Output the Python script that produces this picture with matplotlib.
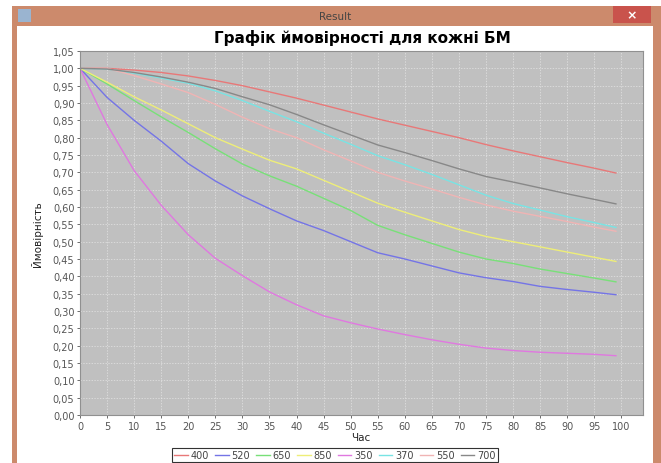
import matplotlib
matplotlib.use("Agg")
import matplotlib.pyplot as plt
import numpy as np
from matplotlib.patches import Rectangle
from matplotlib.lines import Line2D

# дані з графіка
hours = [0, 5, 10, 15, 20, 25, 30, 35, 40, 45, 50, 55, 60, 65, 70, 75, 80, 85, 90, 95, 99]
p400 = [1.0, 1.0, 0.995, 0.988, 0.978, 0.965, 0.950, 0.932, 0.914, 0.894, 0.874, 0.854, 0.836, 0.818, 0.800, 0.780, 0.762, 0.745, 0.728, 0.712, 0.698]
p520 = [1.0, 0.916, 0.850, 0.790, 0.725, 0.675, 0.632, 0.595, 0.560, 0.532, 0.500, 0.468, 0.450, 0.430, 0.410, 0.396, 0.385, 0.371, 0.362, 0.354, 0.347]
p650 = [1.0, 0.955, 0.907, 0.860, 0.815, 0.768, 0.724, 0.690, 0.660, 0.625, 0.590, 0.547, 0.520, 0.495, 0.470, 0.450, 0.437, 0.421, 0.408, 0.395, 0.384]
p850 = [1.0, 0.960, 0.918, 0.880, 0.840, 0.800, 0.767, 0.735, 0.710, 0.677, 0.644, 0.611, 0.585, 0.560, 0.535, 0.515, 0.500, 0.485, 0.470, 0.455, 0.443]
p350 = [1.0, 0.838, 0.705, 0.605, 0.520, 0.452, 0.402, 0.355, 0.318, 0.286, 0.266, 0.248, 0.232, 0.217, 0.204, 0.193, 0.186, 0.181, 0.178, 0.175, 0.171]
p370 = [1.0, 0.998, 0.986, 0.972, 0.957, 0.935, 0.907, 0.876, 0.846, 0.813, 0.781, 0.748, 0.722, 0.694, 0.664, 0.634, 0.610, 0.591, 0.572, 0.555, 0.541]
p550 = [1.0, 1.0, 0.979, 0.955, 0.930, 0.896, 0.859, 0.826, 0.800, 0.765, 0.733, 0.700, 0.675, 0.652, 0.628, 0.606, 0.588, 0.573, 0.558, 0.542, 0.530]
p700 = [1.0, 0.998, 0.988, 0.975, 0.960, 0.942, 0.918, 0.895, 0.867, 0.837, 0.808, 0.779, 0.757, 0.734, 0.710, 0.688, 0.672, 0.655, 0.638, 0.622, 0.609]

labels = ['400', '520', '650', '850', '350', '370', '550', '700']
series = [p400, p520, p650, p850, p350, p370, p550, p700]
colors = ['#e87878', '#7474e6', '#78e078', '#eeee78', '#e078e0', '#78e4e4', '#f0b4b4', '#888888']

W, H = 661, 464
fig = plt.figure(figsize=(W / 100, H / 100), dpi=100)
fig.patch.set_facecolor('white')

def px(x, y):
    return x / W, 1 - y / H

def rect(x0, y0, x1, y1, color):
    fig.patches.append(Rectangle((x0 / W, 1 - y1 / H), (x1 - x0) / W, (y1 - y0) / H,
                                 transform=fig.transFigure, facecolor=color, edgecolor='none', zorder=-5))

# рамка вікна
rect(12, 7, 661, 464, '#cc8a6c')
rect(17, 27, 653, 464, 'white')
rect(613, 7, 651, 24, '#c9534c')
rect(18, 10, 31, 23, '#9ab4d0')
fig.text(*px(632, 15.5), '×', color='white', fontsize=9, ha='center', va='center', weight='bold')
fig.text(*px(335, 17), 'Result', color='#444444', fontsize=7.5, ha='center', va='center')

ax = fig.add_axes([80 / W, 1 - 416 / H, 563 / W, 364 / H])
ax.set_zorder(5)
ax.set_facecolor('#c0c0c0')
for s, lab, c in zip(series, labels, colors):
    ax.plot(hours, s, color=c, lw=1.0, label=lab)

ax.set_xlim(0, 104)
ax.set_ylim(0, 1.05)
ax.set_xticks(np.arange(0, 101, 5))
yt = np.arange(0, 1.051, 0.05)
ax.set_yticks(yt)
ax.set_yticklabels([f'{v:.2f}'.replace('.', ',') for v in yt])
ax.grid(True, color='#eeeeee', lw=0.5, ls=(0, (2, 2)), alpha=0.8)
ax.tick_params(labelsize=7, colors='#555555', length=2, width=0.6, pad=2)
for sp in ax.spines.values():
    sp.set_color('#909090')
    sp.set_linewidth(0.8)

fig.text(*px(362, 38), 'Графік ймовірності для кожні БМ', fontsize=11, weight='bold',
         ha='center', va='center', color='black')
fig.text(*px(37, 234), 'Ймовірність', fontsize=7.5, rotation=90, ha='center', va='center', color='#222222')
fig.text(*px(361, 438), 'Час', fontsize=7.5, ha='center', va='center', color='#222222')

handles = [Line2D([0], [0], color=c, lw=1.0) for c in colors]
leg = fig.legend(handles, labels, ncol=8, loc='center', bbox_to_anchor=px(335, 456),
                 fontsize=7, handlelength=1.4, handletextpad=0.3, columnspacing=0.6,
                 frameon=True, fancybox=False, borderpad=0.2, labelcolor='#444444')
leg.get_frame().set_edgecolor('black')
leg.get_frame().set_linewidth(0.8)

fig.savefig('out.png', dpi=100)
